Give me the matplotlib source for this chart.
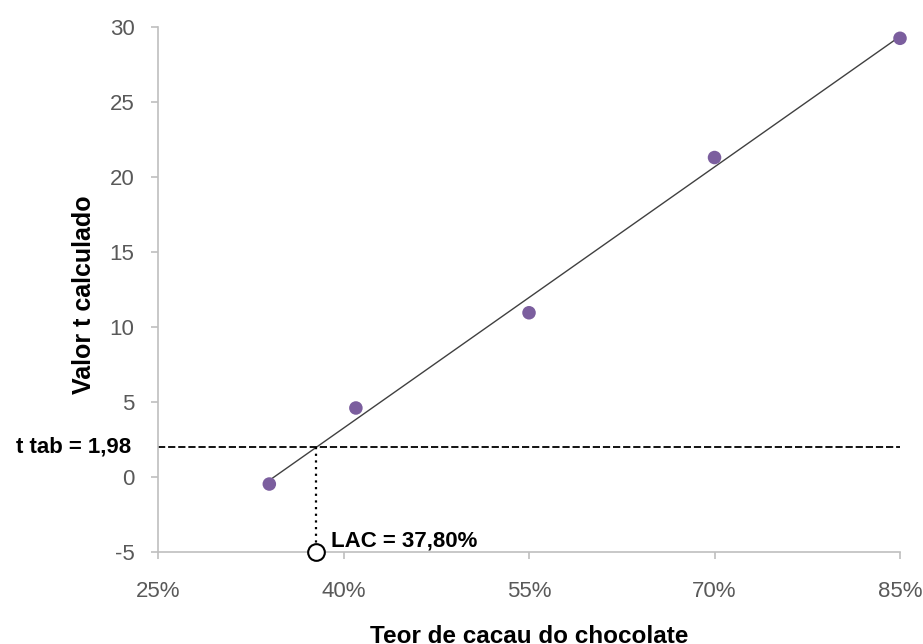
import numpy as np
import matplotlib
matplotlib.use("Agg")
import matplotlib.pyplot as plt
from matplotlib.transforms import blended_transform_factory

plt.rcParams["font.family"] = ["Liberation Sans", "DejaVu Sans"]
plt.rcParams["axes.unicode_minus"] = False

# --- data ---------------------------------------------------------------------
cacau = [34, 41, 55, 70, 85]                 # % cocoa
t_calc = [-0.47, 4.6, 10.95, 21.3, 29.25]    # calculated t value
T_TAB = 1.98
LAC = 37.8
x_ticks = [25, 40, 55, 70, 85]
y_ticks = [-5, 0, 5, 10, 15, 20, 25, 30]

GRAY = "#BFBFBF"
TXT = "#595959"
PURPLE = "#7B5E9E"

fig = plt.figure(figsize=(9.23, 6.44), dpi=100)
ax = fig.add_axes([0.1712, 0.1429, 0.8039, 0.8151])

# linear trendline (least squares over the points)
slope, intercept = np.polyfit(cacau, t_calc, 1)
xs = np.array([min(cacau), max(cacau)])
ax.plot(xs, slope * xs + intercept, color="#404040", lw=1.0, zorder=2)

ax.scatter(cacau, t_calc, s=95, color=PURPLE, edgecolors="none", zorder=3,
           clip_on=False)

# t tab reference line and LAC drop line
ax.plot([x_ticks[0], x_ticks[-1]], [T_TAB, T_TAB], color="black", lw=1.3,
        linestyle=(0, (4, 1.6)), zorder=2)
ax.plot([LAC, LAC], [T_TAB, y_ticks[0]], color="black", lw=1.6,
        linestyle=(0, (1, 2)), zorder=2)
ax.plot([LAC], [y_ticks[0]], marker="o", ms=12, mfc="white", mec="black",
        mew=1.5, clip_on=False, zorder=4)
ax.text(LAC + 1.15, -4.25, "LAC = 37,80%", fontsize=16, fontweight="bold",
        ha="left", va="center")

trans = blended_transform_factory(ax.transAxes, ax.transData)
ax.text(-0.036, T_TAB, "t tab = 1,98", transform=trans, fontsize=16,
        fontweight="bold", ha="right", va="center")

ax.set_xlim(x_ticks[0], x_ticks[-1])
ax.set_ylim(y_ticks[0], y_ticks[-1])
ax.set_xticks(x_ticks)
ax.set_xticklabels([f"{v}%" for v in x_ticks])
ax.set_yticks(y_ticks)

for s in ("top", "right"):
    ax.spines[s].set_visible(False)
for s in ("left", "bottom"):
    ax.spines[s].set_color(GRAY)
    ax.spines[s].set_linewidth(1.2)
ax.tick_params(axis="both", colors=GRAY, length=5, width=1.2, labelsize=16,
               labelcolor=TXT)
ax.tick_params(axis="x", pad=16)
ax.tick_params(axis="y", pad=12)

ax.set_xlabel("Teor de cacau do chocolate", fontsize=17.5, fontweight="bold")
ax.set_ylabel("Valor t calculado", fontsize=18, fontweight="bold")
ax.xaxis.set_label_coords(0.5, -0.14)
ax.yaxis.set_label_coords(-0.084, 0.49)

fig.savefig("out.png", dpi=100)
